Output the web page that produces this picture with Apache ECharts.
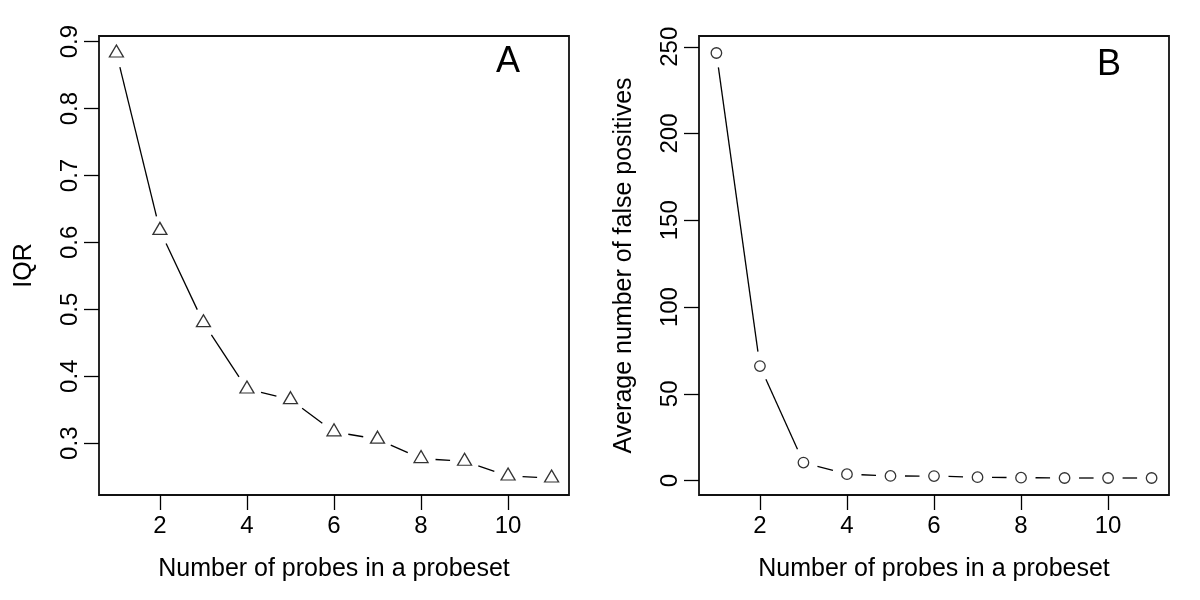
<!DOCTYPE html>
<html>
<head>
<meta charset="utf-8">
<script src="https://cdn.jsdelivr.net/npm/echarts@6/dist/echarts.min.js"></script>
<style>html,body{margin:0;padding:0;background:#fff;}#c{width:1200px;height:600px;}</style>
</head>
<body>
<div id="c"></div>
<script>
// ---- data ----
var probes = [1, 2, 3, 4, 5, 6, 7, 8, 9, 10, 11];
var iqr = [0.883, 0.618, 0.480, 0.381, 0.365, 0.317, 0.306, 0.277, 0.273, 0.251, 0.248];
var falsePos = [246.4, 66.0, 10.4, 3.7, 2.7, 2.6, 2.0, 1.7, 1.5, 1.5, 1.5];
var xTicks = [2, 4, 6, 8, 10];
var yTicksA = [0.3, 0.4, 0.5, 0.6, 0.7, 0.8, 0.9];
var yTicksB = [0, 50, 100, 150, 200, 250];
var xTitle = 'Number of probes in a probeset';
var yTitleA = 'IQR';
var yTitleB = 'Average number of false positives';
var panelLabels = ['A', 'B'];

var FONT = 'Liberation Sans, Arial, Helvetica, sans-serif';
var FS = 24;
var FST = 25;

function pairs(xs, ys) { return xs.map(function (x, i) { return [x, ys[i]]; }); }
function segs(xs, ys) {
  var out = [];
  for (var i = 0; i < xs.length - 1; i++) out.push([xs[i], ys[i], xs[i + 1], ys[i + 1]]);
  return out;
}
function rMin(v) { return v.min - 0.04 * (v.max - v.min); }
function rMax(v) { return v.max + 0.04 * (v.max - v.min); }

var GAP = 14.5;
function renderSeg(params, api) {
  var p1 = api.coord([api.value(0), api.value(1)]);
  var p2 = api.coord([api.value(2), api.value(3)]);
  var dx = p2[0] - p1[0], dy = p2[1] - p1[1];
  var L = Math.sqrt(dx * dx + dy * dy);
  if (L <= 2 * GAP) return null;
  var ux = dx / L, uy = dy / L;
  return {
    type: 'line',
    shape: { x1: p1[0] + ux * GAP, y1: p1[1] + uy * GAP, x2: p2[0] - ux * GAP, y2: p2[1] - uy * GAP },
    style: { stroke: '#000', lineWidth: 1.3 }
  };
}

function xAxisCfg(idx) {
  return {
    type: 'value', gridIndex: idx, position: 'bottom', min: rMin, max: rMax,
    name: xTitle, nameLocation: 'middle', nameGap: 62,
    nameTextStyle: { fontFamily: FONT, fontSize: FST, color: '#000' },
    axisLine: { show: false, onZero: false },
    splitLine: { show: false },
    axisTick: { show: true, customValues: xTicks, length: 15, lineStyle: { color: '#000', width: 1.3 } },
    axisLabel: { customValues: xTicks, margin: 19, fontFamily: FONT, fontSize: FS, color: '#000' }
  };
}
function yAxisCfg(idx, ticks, title) {
  return {
    type: 'value', gridIndex: idx, position: 'left', min: rMin, max: rMax,
    name: title, nameLocation: 'middle', nameGap: 62, nameRotate: 90,
    nameTextStyle: { fontFamily: FONT, fontSize: FST, color: '#000' },
    axisLine: { show: false, onZero: false },
    splitLine: { show: false },
    axisTick: { show: true, customValues: ticks, length: 15, lineStyle: { color: '#000', width: 1.3 } },
    axisLabel: { customValues: ticks, rotate: 90, margin: 17, fontFamily: FONT, fontSize: FS, color: '#000' }
  };
}

var chart = echarts.init(document.getElementById('c'), null, { renderer: 'canvas' });
chart.setOption({
  backgroundColor: '#fff',
  animation: false,
  grid: [
    { left: 99, top: 36, width: 470, height: 459, show: true, borderColor: '#111', borderWidth: 1.8, backgroundColor: 'transparent' },
    { left: 699, top: 36, width: 470, height: 459, show: true, borderColor: '#111', borderWidth: 1.8, backgroundColor: 'transparent' }
  ],
  xAxis: [xAxisCfg(0), xAxisCfg(1)],
  yAxis: [yAxisCfg(0, yTicksA, yTitleA), yAxisCfg(1, yTicksB, yTitleB)],
  graphic: [
    { type: 'text', left: 496, top: 44, style: { text: panelLabels[0], font: '36px ' + FONT, fill: '#000' } },
    { type: 'text', left: 1097, top: 47, style: { text: panelLabels[1], font: '36px ' + FONT, fill: '#000' } }
  ],
  series: [
    { type: 'custom', xAxisIndex: 0, yAxisIndex: 0, renderItem: renderSeg, data: segs(probes, iqr), encode: { x: [0, 2], y: [1, 3] }, silent: true },
    { type: 'scatter', xAxisIndex: 0, yAxisIndex: 0, data: pairs(probes, iqr), symbol: 'triangle', symbolSize: [14, 12], symbolOffset: [0, -2],
      itemStyle: { color: '#fff', borderColor: '#000', borderWidth: 1.3 } },
    { type: 'custom', xAxisIndex: 1, yAxisIndex: 1, renderItem: renderSeg, data: segs(probes, falsePos), encode: { x: [0, 2], y: [1, 3] }, silent: true },
    { type: 'scatter', xAxisIndex: 1, yAxisIndex: 1, data: pairs(probes, falsePos), symbol: 'circle', symbolSize: 10.5,
      itemStyle: { color: '#fff', borderColor: '#000', borderWidth: 1.3 } }
  ]
});
</script>
</body>
</html>
